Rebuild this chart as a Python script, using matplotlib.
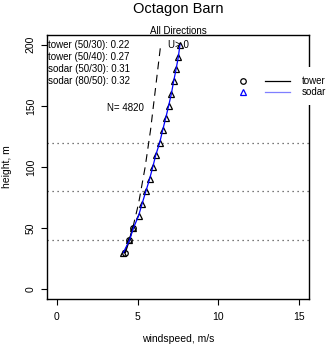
import matplotlib
matplotlib.use("Agg")
import matplotlib.pyplot as plt
from matplotlib.patches import Rectangle

plt.rcParams['font.family'] = ['Liberation Sans', 'DejaVu Sans']

# sodar profile (every 10 m)
sodar_height = [30, 40, 50, 60, 70, 80, 90, 100, 110, 120,
                130, 140, 150, 160, 170, 180, 190, 200]
sodar_speed = [4.12, 4.50, 4.74, 5.06, 5.28, 5.51, 5.74, 5.94, 6.13, 6.37,
               6.55, 6.74, 6.92, 7.09, 7.23, 7.38, 7.52, 7.62]

# tower anemometers
tower_height = [30, 40, 50]
tower_speed = [4.25, 4.49, 4.71]

# dashed shear-profile line (tower 50/30 fit)
fit_height = [30, 40, 50, 70, 100, 130, 160, 200]
fit_speed = [4.20, 4.47, 4.70, 5.06, 5.47, 5.80, 6.07, 6.43]

ref_heights = [40, 80, 120]

shear_labels = ['tower (50/30): 0.22', 'tower (50/40): 0.27',
                'sodar (50/30): 0.31', 'sodar (80/50): 0.32']
shear_y = [200, 190, 180, 170]
n_obs = 4820

W, H = 327, 349
fs = 7.0
fig = plt.figure(figsize=(W / 100, H / 100), dpi=100)
ax = fig.add_axes([47 / W, 1 - 299 / H, 262 / W, 264 / H])

for h in ref_heights:
    ax.axhline(h, color='0.3', lw=0.9, linestyle=(0, (1, 3)))

ax.plot(fit_speed, fit_height, color='black', lw=0.8, linestyle=(0, (7, 5)))
ax.plot(tower_speed, tower_height, color='black', lw=0.9, marker='o',
        ms=4, mfc='none', mec='black', mew=0.9)
ax.plot(sodar_speed, sodar_height, ls='none', marker='^', ms=4.3,
        mfc='none', mec='black', mew=0.9)
ax.plot(sodar_speed, sodar_height, color='blue', lw=0.9)

for lab, y in zip(shear_labels, shear_y):
    ax.text(2.0, y, lab, ha='center', va='center', fontsize=fs)
ax.text(4.25, 148, 'N= ' + str(n_obs), ha='center', va='center', fontsize=fs)
ax.text(7.5, 200, 'U> 0', ha='center', va='center', fontsize=fs)

ax.set_xlim(-0.6, 15.6)
ax.set_ylim(-8, 208)
ax.set_xticks([0, 5, 10, 15])
ax.set_yticks([0, 50, 100, 150, 200])
ax.tick_params(axis='both', direction='out', length=4, width=0.8,
               labelsize=7.5)
ax.tick_params(axis='x', pad=5)
ax.tick_params(axis='y', pad=4)
for t in ax.get_yticklabels():
    t.set_rotation(90)
    t.set_va('center')
for s in ax.spines.values():
    s.set_linewidth(1.0)

ax.set_xlabel('windspeed, m/s', fontsize=7.5, labelpad=9)
ax.set_ylabel('height, m', fontsize=7.5, labelpad=10)

fig.text(178 / W, 1 - 9 / H, 'Octagon Barn', ha='center', va='center',
         fontsize=10.5)
fig.text(178 / W, 1 - 31 / H, 'All Directions', ha='center', va='center',
         fontsize=fs)

# legend drawn on a pixel overlay, white box covers the frame like R does
ov = fig.add_axes([0, 0, 1, 1], zorder=10)
ov.set_xlim(0, W)
ov.set_ylim(H, 0)
ov.axis('off')
ov.add_patch(Rectangle((228, 67), 99, 38, facecolor='white', edgecolor='none'))
ov.plot([243], [81], marker='o', ms=4, mfc='none', mec='black', mew=0.9)
ov.plot([243], [92], marker='^', ms=4.3, mfc='none', mec='blue', mew=0.9)
ov.plot([265, 290], [81, 81], color='black', lw=0.9)
ov.plot([265, 290], [92, 92], color='#7f7fff', lw=0.9)
ov.text(302, 81, 'tower', ha='left', va='center', fontsize=fs)
ov.text(302, 92, 'sodar', ha='left', va='center', fontsize=fs)

fig.savefig('out.png', dpi=100)
